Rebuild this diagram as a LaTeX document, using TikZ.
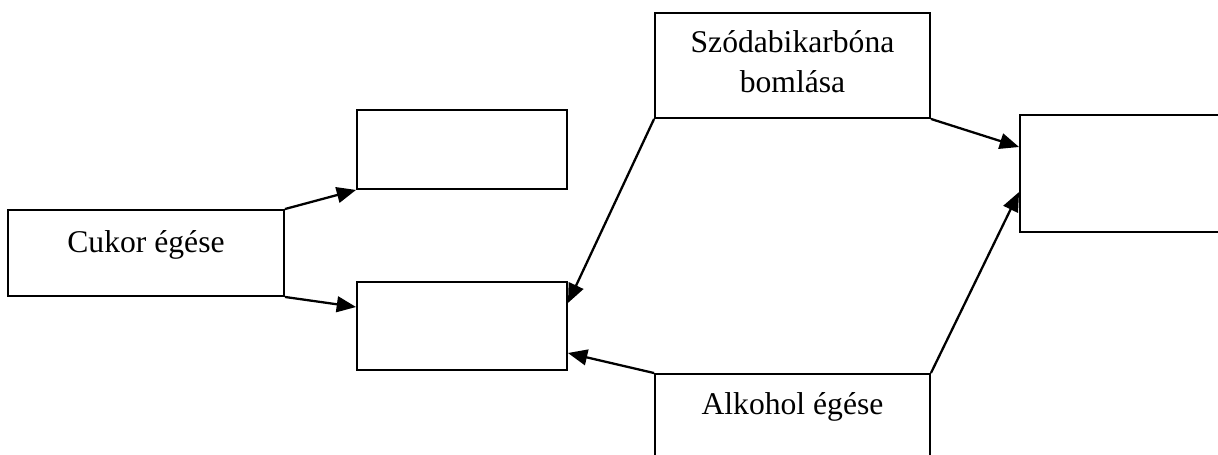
\documentclass[tikz,border=0pt]{standalone}
\usepackage{fontspec}
\setmainfont{Liberation Serif}
\usepackage{tikz}
\usetikzlibrary{arrows.meta}
\usetikzlibrary{positioning}

\tikzset{
  doboz/.style={draw, line width=1.1pt, inner sep=2pt, align=center,
    font=\fontsize{18}{23}\selectfont},
  nyil/.style={-{Triangle[length=11pt,width=9pt]}, line width=1.3pt}
}

\begin{document}
\begin{tikzpicture}[x=0.02cm, y=-0.02cm]
    \path[use as bounding box, clip] (0,0) rectangle (1218,455);
    \node [doboz, minimum width=5.52cm, minimum height=1.72cm,
      text height=0.45cm, text depth=0.45cm] (cukor) at (146,253) {Cukor égése};
    \node [doboz, minimum width=4.2cm, minimum height=1.58cm] (felso) at (462,149.5) {};
    \node [doboz, minimum width=4.2cm, minimum height=1.76cm] (also) at (462,326) {};
    \node [doboz, minimum width=5.5cm, minimum height=2.1cm,
      text depth=0.15cm] (szoda) at (792.5,65.5) {Szódabikarbóna\\bomlása};
    \node [doboz, minimum width=4.4cm, minimum height=2.34cm] (jobb) at (1130,173.5) {};
    \node [doboz, minimum width=5.5cm, minimum height=2.2cm,
      text height=0.45cm, text depth=1.01cm] (alkohol) at (792.5,429) {Alkohol égése};
    \draw [nyil] (cukor.north east) -- (felso.south west);
    \draw [nyil] (cukor.south east) -- ([yshift=0.38cm]also.west);
    \draw [nyil] (szoda.south west) -- ([yshift=0.46cm]also.east);
    \draw [nyil] (alkohol.north west) -- ([yshift=-0.54cm]also.east);
    \draw [nyil] (szoda.south east) -- ([yshift=0.53cm]jobb.west);
    \draw [nyil] (alkohol.north east) -- ([yshift=-0.37cm]jobb.west);
  \end{tikzpicture}
\end{document}
